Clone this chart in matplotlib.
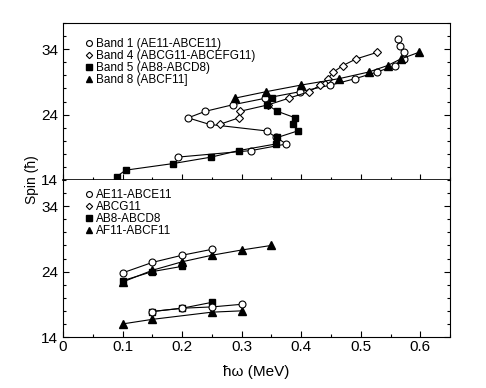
import numpy as np
import matplotlib.pyplot as plt
from matplotlib.ticker import MultipleLocator

plt.rcParams['font.family'] = ['Liberation Sans', 'DejaVu Sans']

# top panel: rotational frequency (MeV) vs spin (hbar)
b1_w = [0.193, 0.316, 0.375, 0.358, 0.342, 0.246, 0.210, 0.239, 0.285, 0.340,
        0.398, 0.449, 0.491, 0.527, 0.558, 0.573, 0.572, 0.566, 0.562]
b1_I = [17.5, 18.5, 19.5, 20.5, 21.5, 22.5, 23.5, 24.5, 25.5, 26.5,
        27.5, 28.5, 29.5, 30.5, 31.5, 32.5, 33.5, 34.5, 35.5]

b4_w = [0.263, 0.295, 0.297, 0.345, 0.379, 0.413, 0.432, 0.445, 0.454, 0.470, 0.492, 0.527]
b4_I = [22.5, 23.5, 24.5, 25.5, 26.5, 27.5, 28.5, 29.5, 30.5, 31.5, 32.5, 33.5]

b5_w = [0.090, 0.105, 0.184, 0.249, 0.295, 0.357, 0.360, 0.394, 0.386, 0.390, 0.360, 0.343, 0.351]
b5_I = [14.5, 15.5, 16.5, 17.5, 18.5, 19.5, 20.5, 21.5, 22.5, 23.5, 24.5, 25.5, 26.5]

b8_w = [0.288, 0.341, 0.399, 0.464, 0.513, 0.545, 0.567, 0.597]
b8_I = [26.5, 27.5, 28.5, 29.5, 30.5, 31.5, 32.5, 33.5]

# bottom panel: calculations
c_ae_w = [0.10, 0.15, 0.20, 0.25]
c_ae_I = [23.8, 25.4, 26.5, 27.4]
c_ae2_w = [0.15, 0.20, 0.25, 0.30]
c_ae2_I = [17.9, 18.4, 18.6, 19.0]

c_abcg_w = []
c_abcg_I = []

c_ab8_w = [0.10, 0.15, 0.20]
c_ab8_I = [22.6, 24.0, 24.8]
c_ab8b_w = [0.15, 0.20, 0.25]
c_ab8b_I = [17.9, 18.4, 19.3]

c_af_w = [0.10, 0.15, 0.20, 0.25, 0.30, 0.35]
c_af_I = [22.4, 24.2, 25.5, 26.5, 27.3, 28.0]
c_af2_w = [0.10, 0.15, 0.25, 0.30]
c_af2_I = [16.0, 16.7, 17.8, 18.0]

top_labels = ['Band 1 (AE11-ABCE11)', 'Band 4 (ABCG11-ABCEFG11)',
              'Band 5 (AB8-ABCD8)', 'Band 8 (ABCF11]']
bot_labels = ['AE11-ABCE11', 'ABCG11', 'AB8-ABCD8', 'AF11-ABCF11']

fig = plt.figure(figsize=(4.86, 3.88), dpi=100)
ax1 = fig.add_axes([0.1296, 0.5361, 0.7966, 0.4046])
ax2 = fig.add_axes([0.1296, 0.1314, 0.7966, 0.4047])

open_c = dict(marker='o', mfc='white', mec='black', ms=5, mew=0.8, color='black', lw=0.8)
open_d = dict(marker='D', mfc='white', mec='black', ms=3.8, mew=0.8, color='black', lw=0.8)
fill_s = dict(marker='s', mfc='black', mec='black', ms=4.5, color='black', lw=0.8)
fill_t = dict(marker='^', mfc='black', mec='black', ms=5.5, color='black', lw=0.8)

h1, = ax1.plot(b1_w, b1_I, **open_c)
h4, = ax1.plot(b4_w, b4_I, **open_d)
h5, = ax1.plot(b5_w, b5_I, **fill_s)
h8, = ax1.plot(b8_w, b8_I, **fill_t)

ax2.plot(c_ab8_w, c_ab8_I, **fill_s)
ax2.plot(c_ab8b_w, c_ab8b_I, **fill_s)
ax2.plot(c_af_w, c_af_I, **fill_t)
ax2.plot(c_af2_w, c_af2_I, **fill_t)
g1, = ax2.plot(c_ae_w, c_ae_I, **open_c)
ax2.plot(c_ae2_w, c_ae2_I, **open_c)
g4, = ax2.plot(c_abcg_w, c_abcg_I, **open_d)
g5, = ax2.plot([], [], **fill_s)
g8, = ax2.plot([], [], **fill_t)

legkw = dict(frameon=False, fontsize=8.5, handlelength=0.6, handletextpad=0.3,
             labelspacing=0.0, borderaxespad=0.0, loc='upper left')
ax1.legend([h1, h4, h5, h8], top_labels, bbox_to_anchor=(0.045, 0.935),
           **legkw)
ax2.legend([g1, g4, g5, g8], bot_labels, bbox_to_anchor=(0.045, 0.975),
           **legkw)
for lg in (ax1.get_legend(), ax2.get_legend()):
    for line in lg.get_lines():
        line.set_linestyle('none')
        line.set_markersize(line.get_markersize() * 0.85)

for ax in (ax1, ax2):
    ax.set_xlim(0, 0.65)
    ax.set_ylim(14, 38)
    ax.yaxis.set_major_locator(MultipleLocator(10))
    ax.yaxis.set_minor_locator(MultipleLocator(2))
    ax.xaxis.set_major_locator(MultipleLocator(0.1))
    ax.xaxis.set_minor_locator(MultipleLocator(0.05))
    ax.tick_params(which='both', direction='in', right=True, top=False,
                   labelsize=11, width=0.8)
    ax.tick_params(which='major', length=4)
    ax.tick_params(which='minor', length=2.5)
    for s in ax.spines.values():
        s.set_linewidth(0.8)
    ax.set_yticks([14, 24, 34])

ax1.spines['bottom'].set_linewidth(1.2)
ax1.tick_params(labelbottom=False)
ax2.spines['top'].set_visible(False)
ax2.set_xticks([0, 0.1, 0.2, 0.3, 0.4, 0.5, 0.6])
ax2.set_xticklabels(['0', '0.1', '0.2', '0.3', '0.4', '0.5', '0.6'])
ax2.tick_params(axis='x', pad=2)

ax2.set_xlabel('ħω (MeV)', fontsize=11, labelpad=8)
fig.text(0.066, 0.536, 'Spin (ħ)', rotation=90, fontsize=10, ha='center', va='center')

fig.savefig('out.png', dpi=100)
